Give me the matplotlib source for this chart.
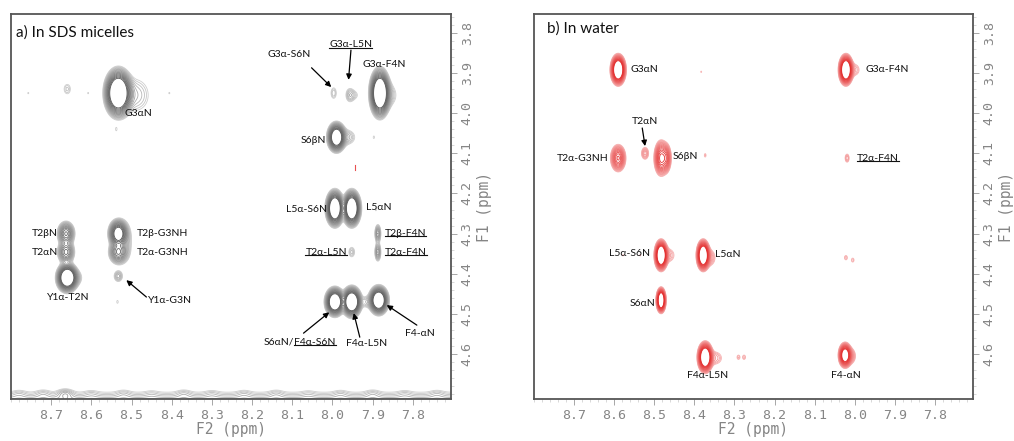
import numpy as np
import matplotlib
matplotlib.use("Agg")
import matplotlib.pyplot as plt
from matplotlib.lines import Line2D
from matplotlib.colors import to_rgb
from matplotlib.transforms import IdentityTransform

########## DATA #########
# cross peaks, F2 (ppm), F1 (ppm), height, width F2, width F1
# panel a) SDS micelles
sds_f2 = [8.533, 8.490, 8.660, 7.997, 7.957, 7.945, 7.882, 7.860, 7.990, 7.965, 7.897,
          7.994, 7.952, 7.887, 7.887, 7.952, 8.663, 8.663, 8.660, 8.640, 8.533, 8.533,
          8.515, 8.533, 8.535, 7.994, 7.952, 7.885, 7.915, 8.757, 8.608, 8.406, 8.538,
          7.892]
sds_f1 = [3.950, 3.955, 3.940, 3.950, 3.955, 3.955, 3.950, 3.955, 4.060, 4.060, 4.060,
          4.237, 4.237, 4.300, 4.346, 4.346, 4.300, 4.346, 4.410, 4.410, 4.300, 4.346,
          4.320, 4.406, 4.470, 4.470, 4.470, 4.466, 4.470, 3.950, 3.950, 3.950, 4.040,
          4.240]
sds_amp = [70, 2.2, 1.6, 1.8, 2.2, 1.2, 70, 2.0, 50, 2.5, 1.15,
           60, 60, 6, 6, 2.0, 14, 12, 60, 2.0, 35, 14,
           2.0, 3.0, 1.2, 55, 60, 55, 2.0, 1.1, 1.1, 1.1, 1.15,
           1.15]
sds_wx = [0.0133, 0.025, 0.008, 0.006, 0.007, 0.010, 0.0098, 0.015, 0.0090, 0.015, 0.003,
          0.0088, 0.0088, 0.004, 0.004, 0.006, 0.0098, 0.0098, 0.0105, 0.012, 0.0100, 0.0108,
          0.012, 0.007, 0.003, 0.0096, 0.0096, 0.0096, 0.010, 0.003, 0.003, 0.003, 0.003,
          0.003]
sds_wy = [0.0231, 0.030, 0.012, 0.012, 0.012, 0.010, 0.0231, 0.020, 0.0145, 0.013, 0.006,
          0.0175, 0.0175, 0.012, 0.012, 0.010, 0.0137, 0.0137, 0.0140, 0.012, 0.0145, 0.0137,
          0.030, 0.009, 0.006, 0.0140, 0.0148, 0.0140, 0.010, 0.004, 0.004, 0.004, 0.007,
          0.006]

# water line at the bottom of panel a)
water_f2 = [8.78, 8.72, 8.665, 8.60, 8.52, 8.45, 8.37, 8.30, 8.22, 8.14, 8.06, 7.98, 7.90, 7.82, 7.74]
water_amp = [0.6, 0.8, 2.0, 0.5, 0.7, 0.4, 0.8, 0.5, 0.6, 0.7, 0.4, 0.6, 0.8, 0.5, 0.6]

# panel b) water
wat_f2 = [8.590, 8.022, 8.000, 8.383, 8.590, 8.523, 8.483, 8.470, 8.373, 8.019,
          8.483, 8.465, 8.378, 8.362, 8.022, 8.005, 8.578, 8.535, 8.483,
          8.373, 8.350, 8.290, 8.276, 8.024, 8.010]
wat_f1 = [3.892, 3.892, 3.892, 3.897, 4.112, 4.100, 4.112, 4.112, 4.105, 4.112,
          4.354, 4.354, 4.354, 4.360, 4.360, 4.366, 4.354, 4.354, 4.466,
          4.608, 4.610, 4.608, 4.608, 4.603, 4.605]
wat_amp = [70, 70, 1.8, 1.1, 14, 3.0, 18, 9, 1.3, 2.2,
           70, 2.0, 70, 2.5, 1.5, 1.4, 1.1, 1.1, 70,
           70, 2.2, 1.5, 1.5, 45, 3.0]
wat_wx = [0.0071, 0.0067, 0.010, 0.003, 0.0085, 0.006, 0.0076, 0.006, 0.003, 0.004,
          0.0062, 0.012, 0.0062, 0.010, 0.004, 0.004, 0.003, 0.003, 0.0045,
          0.0071, 0.014, 0.004, 0.004, 0.0064, 0.008]
wat_wy = [0.0142, 0.0142, 0.012, 0.004, 0.0150, 0.010, 0.0190, 0.017, 0.006, 0.008,
          0.0142, 0.013, 0.0142, 0.014, 0.006, 0.006, 0.004, 0.004, 0.0116,
          0.0142, 0.012, 0.006, 0.006, 0.0120, 0.012]

# labels: text, F2, F1, alignment, underlined
sds_labels = [
    ("G3\u03b1N", 8.483, 4.000, "center", False),
    ("G3\u03b1-S6N", 8.109, 3.855, "center", False),
    ("G3\u03b1-L5N", 7.954, 3.830, "center", True),
    ("G3\u03b1-F4N", 7.872, 3.880, "center", False),
    ("S6\u03b2N", 8.017, 4.067, "right", False),
    ("L5\u03b1-S6N", 8.014, 4.241, "right", False),
    ("L5\u03b1N", 7.916, 4.236, "left", False),
    ("T2\u03b2-F4N", 7.870, 4.299, "left", True),
    ("T2\u03b1-F4N", 7.870, 4.346, "left", True),
    ("T2\u03b1-L5N", 7.964, 4.346, "right", True),
    ("T2\u03b2N", 8.683, 4.300, "right", False),
    ("T2\u03b1N", 8.683, 4.346, "right", False),
    ("Y1\u03b1-T2N", 8.658, 4.458, "center", False),
    ("T2\u03b2-G3NH", 8.488, 4.300, "left", False),
    ("T2\u03b1-G3NH", 8.488, 4.346, "left", False),
    ("Y1\u03b1-G3N", 8.458, 4.466, "left", False),
    ("F4\u03b1-L5N", 7.914, 4.573, "center", False),
    ("F4-\u03b1N", 7.782, 4.548, "center", False),
]
wat_labels = [
    ("G3\u03b1N", 8.560, 3.892, "left", False),
    ("G3\u03b1-F4N", 7.974, 3.892, "left", False),
    ("T2\u03b1N", 8.523, 4.022, "center", False),
    ("T2\u03b1-G3NH", 8.615, 4.112, "right", False),
    ("S6\u03b2N", 8.453, 4.108, "left", False),
    ("T2\u03b1-F4N", 7.994, 4.112, "left", True),
    ("L5\u03b1-S6N", 8.510, 4.349, "right", False),
    ("L5\u03b1N", 8.348, 4.352, "left", False),
    ("S6\u03b1N", 8.498, 4.473, "right", False),
    ("F4\u03b1-L5N", 8.366, 4.653, "center", False),
    ("F4-\u03b1N", 8.022, 4.653, "center", False),
]
# arrows: (tail F2, tail F1, tip F2, tip F1)
sds_arrows = [
    (7.954, 3.843, 7.960, 3.917),
    (8.052, 3.887, 8.003, 3.935),
    (8.463, 4.458, 8.513, 4.416),
    (8.072, 4.548, 8.008, 4.496),
    (7.932, 4.558, 7.947, 4.498),
    (7.790, 4.528, 7.865, 4.478),
]
wat_arrows = [
    (8.530, 4.037, 8.523, 4.082),
]

f2_ticks = [8.7, 8.6, 8.5, 8.4, 8.3, 8.2, 8.1, 8.0, 7.9, 7.8]
f1_ticks = [3.8, 3.9, 4.0, 4.1, 4.2, 4.3, 4.4, 4.5, 4.6]

LABEL_FONT = ["Lato", "DejaVu Sans"]
AXIS_FONT = "DejaVu Sans Mono"
AXIS_COL = "#858585"


def spectrum(f2, f1, amp, wx, wy, X, Y):
    Z = np.zeros_like(X)
    for x0, y0, a, sx, sy in zip(f2, f1, amp, wx, wy):
        Z += a * np.exp(-((X - x0) ** 2 / (2 * sx ** 2) + (Y - y0) ** 2 / (2 * sy ** 2)))
    return Z


def level_colors(light, dark, n):
    c1 = np.array(to_rgb(light))
    c2 = np.array(to_rgb(dark))
    return [tuple(c1 + (c2 - c1) * t) for t in np.linspace(0, 1, n)]


def setup_axes(ax):
    ax.set_xlim(8.80, 7.705)
    ax.set_ylim(4.712, 3.753)
    ax.yaxis.tick_right()
    ax.yaxis.set_label_position("right")
    ax.set_xticks(f2_ticks)
    ax.set_yticks(f1_ticks)
    ax.set_xticklabels(["%.1f" % v for v in f2_ticks], fontfamily=AXIS_FONT, fontsize=9.5, color=AXIS_COL)
    ax.set_yticklabels(["%.1f" % v for v in f1_ticks], fontfamily=AXIS_FONT, fontsize=9.5, color=AXIS_COL,
                       rotation=90, va="center")
    ax.set_xticks(np.arange(7.72, 8.80, 0.02), minor=True)
    ax.set_yticks(np.arange(3.76, 4.71, 0.02), minor=True)
    ax.tick_params(which="major", length=4, width=0.6, color="#999999", pad=3)
    ax.tick_params(which="minor", length=2, width=0.4, color="#bbbbbb")
    ax.set_xlabel("F2 (ppm)", fontfamily=AXIS_FONT, fontsize=10.5, color=AXIS_COL, labelpad=0)
    ax.set_ylabel("F1 (ppm)", fontfamily=AXIS_FONT, fontsize=10.5, color=AXIS_COL, labelpad=2)
    for s in ax.spines.values():
        s.set_color("#555555")
        s.set_linewidth(1.3)


def put_labels(ax, labels, arrows):
    out = []
    for txt, x, y, ha, ul in labels:
        t = ax.text(x, y, txt, ha=ha, va="center", fontsize=7.5, fontfamily=LABEL_FONT, color="#111111")
        if ul:
            out.append(t)
    for x0, y0, x1, y1 in arrows:
        ax.annotate("", xy=(x1, y1), xytext=(x0, y0),
                    arrowprops=dict(arrowstyle="-|>", color="black", lw=0.9, mutation_scale=8,
                                    shrinkA=0, shrinkB=0))
    return out


fig = plt.figure(figsize=(10.14, 4.41), dpi=100)
axA = fig.add_axes([11 / 1014, 42 / 441, 440 / 1014, 385 / 441])
axB = fig.add_axes([534 / 1014, 42 / 441, 439 / 1014, 385 / 441])

x = np.linspace(7.70, 8.81, 1200)
y = np.linspace(3.74, 4.73, 1000)
X, Y = np.meshgrid(x, y)

levels = 1.0 * 1.22 ** np.arange(16)

# panel a
ZA = spectrum(sds_f2, sds_f1, sds_amp, sds_wx, sds_wy, X, Y)
ZA += 9.0 * np.exp(-(Y - 4.76) ** 2 / (2 * 0.031 ** 2))
ZA += spectrum(water_f2, [4.70] * len(water_f2), water_amp, [0.012] * len(water_f2),
               [0.008] * len(water_f2), X, Y)
axA.contour(X, Y, ZA, levels=levels, colors=level_colors("#cfcfcf", "#555555", len(levels)),
            linewidths=0.6)
# the little red artefact
axA.plot([7.944, 7.944], [4.128, 4.142], color="#e85050", lw=0.8)

# panel b
ZB = spectrum(wat_f2, wat_f1, wat_amp, wat_wx, wat_wy, X, Y)
axB.contour(X, Y, ZB, levels=levels, colors=level_colors("#f7b4b4", "#e32a2a", len(levels)),
            linewidths=0.6)

setup_axes(axA)
setup_axes(axB)

axA.text(0.012, 0.953, "a) In SDS micelles", transform=axA.transAxes, fontsize=11,
         fontfamily=LABEL_FONT, color="#111111", va="center")
axB.text(0.030, 0.962, "b) In water", transform=axB.transAxes, fontsize=11,
         fontfamily=LABEL_FONT, color="#111111", va="center")

ulA = put_labels(axA, sds_labels, sds_arrows)
ulB = put_labels(axB, wat_labels, wat_arrows)

# S6aN/F4a-S6N, only the second half is underlined
axA.text(8.095, 4.571, "S6\u03b1N/", ha="right", va="center", fontsize=7.5, fontfamily=LABEL_FONT, color="#111111")
ulA.append(axA.text(8.095, 4.571, "F4\u03b1-S6N", ha="left", va="center", fontsize=7.5,
                    fontfamily=LABEL_FONT, color="#111111"))

fig.canvas.draw()
r = fig.canvas.get_renderer()
for t in ulA + ulB:
    bb = t.get_window_extent(r)
    fig.add_artist(Line2D([bb.x0, bb.x1], [bb.y0 + 1.5, bb.y0 + 1.5], transform=IdentityTransform(),
                          color="#111111", lw=0.8))

fig.savefig("out.png", dpi=100)
